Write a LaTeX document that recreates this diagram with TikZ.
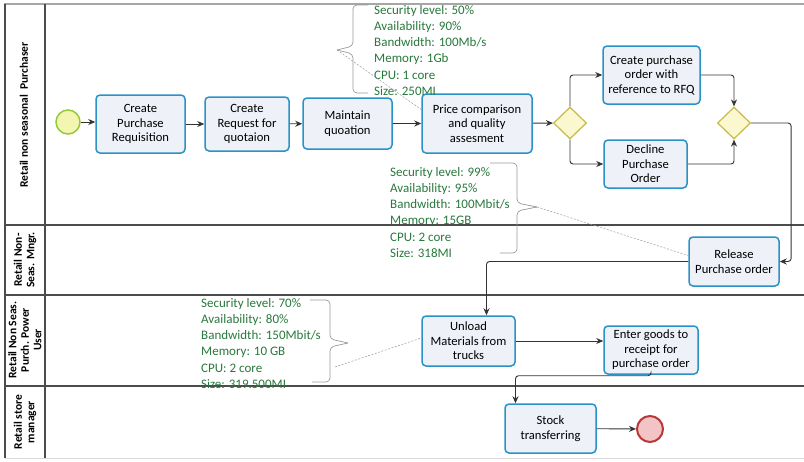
\documentclass[tikz,border=0pt]{standalone}
\usepackage{fontspec}
\setmainfont{Carlito}
\usepackage{tikz}
\usetikzlibrary{arrows.meta, positioning, shapes.geometric, calc}

\definecolor{taskblue}{RGB}{41,146,200}
\definecolor{taskfill}{RGB}{238,241,248}
\definecolor{startdraw}{RGB}{150,200,60}
\definecolor{startfill}{RGB}{243,246,176}
\definecolor{gatedraw}{RGB}{200,185,70}
\definecolor{gatefill}{RGB}{251,248,208}
\definecolor{enddraw}{RGB}{185,55,55}
\definecolor{endfill}{RGB}{242,196,198}
\definecolor{notegreen}{RGB}{40,120,60}

\begin{document}
\begin{tikzpicture}[
    x=1pt, y=-1pt,
    every node/.style={font=\fontsize{12.6}{14.5}\selectfont},
    task/.style={rectangle, rounded corners=4pt, draw=taskblue, line width=1.5pt, fill=taskfill, align=center, inner sep=1pt},
    gate/.style={diamond, draw=gatedraw, line width=1.2pt, fill=gatefill, minimum width=33pt, minimum height=32pt, inner sep=0pt},
    startev/.style={circle, draw=startdraw, line width=1.5pt, fill=startfill, minimum size=24pt, inner sep=0pt},
    endev/.style={circle, draw=enddraw, line width=2pt, fill=endfill, minimum size=26pt, inner sep=0pt},
    lanelabel/.style={rotate=90, align=center, font=\fontsize{11.5}{12.5}\selectfont\bfseries},
    note/.style={anchor=north west, align=left, inner sep=0pt, text=notegreen, font=\fontsize{13}{16.2}\selectfont},
    flow/.style={-{Stealth[length=7pt,width=6pt]}, line width=0.9pt, black!80, rounded corners=3pt},
    brace/.style={gray!80, line width=0.7pt, rounded corners=4pt},
    assoc/.style={gray!80, line width=0.5pt, dash pattern=on 2pt off 1.5pt},
    laneline/.style={black!70, line width=1.6pt}
]
\useasboundingbox (0,0) rectangle (804,461);

% --- pool and lanes ---
\draw[gray!70, line width=2pt] (4,4) -- (804,4);
\draw[laneline] (5,4) -- (5,458);
\draw[laneline] (45,4) -- (45,458);
\foreach \y in {225,295,386}
    \draw[laneline] (5,\y) -- (804,\y);
\draw[gray!30, line width=1pt] (5,458) -- (804,458);

\node[lanelabel] (l_purch) at (24,115) {Retail non seasonal\ \ Purchaser};
\node[lanelabel] (l_mngr)  at (25,260) {Retail Non-\\Seas. Mngr.};
\node[lanelabel] (l_power) at (25,340) {Retail Non Seas.\\Purch. Power\\User};
\node[lanelabel] (l_store) at (25,422) {Retail store\\manager};

% --- purchaser lane ---
\node[startev] (start) at (68,122) {};
\node[task, minimum width=89pt, minimum height=58pt] (cpr) at (140.5,124) {Create\\Purchase\\Requisition};
\node[task, minimum width=84pt, minimum height=54pt] (crq) at (247,124) {Create\\Request for\\quotaion};
\node[task, minimum width=89pt, minimum height=51pt] (mq)  at (347.5,123.5) {Maintain\\quoation};
\node[task, minimum width=110pt, minimum height=59pt] (pcq) at (477,123.5) {Price comparison\\and quality\\assesment};
\node[gate] (g1) at (570,123) {};
\node[task, minimum width=97pt, minimum height=58pt] (cpo) at (651.5,75) {Create purchase\\order with\\reference to RFQ};
\node[task, minimum width=83pt, minimum height=48pt] (dpo) at (645.5,164) {Decline\\Purchase\\Order};
\node[gate] (g2) at (734,123) {};

% --- other lanes ---
\node[task, minimum width=90pt, minimum height=49pt] (rpo) at (734,261.5) {Release\\Purchase order};
\node[task, minimum width=93pt, minimum height=50pt] (umt) at (468.5,341) {Unload\\Materials from\\trucks};
\node[task, minimum width=94pt, minimum height=48pt] (egr) at (651,350) {Enter goods to\\receipt for\\purchase order};
\node[task, minimum width=91pt, minimum height=49pt] (stk) at (550.5,428.5) {Stock\\transferring};
\node[endev] (stop) at (650,429) {};

% --- sequence flows ---
\draw[flow] (start) -- (start -| cpr.west);
\draw[flow] (cpr) -- (crq);
\draw[flow] (crq) -- (mq);
\draw[flow] (mq) -- (pcq);
\draw[flow] (pcq) -- (g1);
\draw[flow] (g1.north) |- (cpo.west);
\draw[flow] (g1.south) |- (dpo.west);
\draw[flow] (cpo.east) -| (g2.north);
\draw[flow] (dpo.east) -| (g2.south);
\draw[flow] (g2.east) -- ++(40,0) |- (rpo.east);
\draw[flow] (rpo.west) -| ([xshift=18pt]umt.north);
\draw[flow] (umt.east) -- (umt.east -| egr.west);
\draw[flow] (egr.south) -- ++(0,1) -| ([xshift=-35pt]stk.north);
\draw[flow] (stk) -- (stop);

% --- text annotations ---
\node[note] (ann1) at (374,5) {Security level: 50\%\\Availability: 90\%\\Bandwidth: 100Mb/s\\Memory: 1Gb\\CPU: 1 core\\Size: 250MI};
\coordinate (tip1) at (337,50);
\draw[brace] (tip1) -- ++(16,-4) -- ++(0,-41) -- ++(15,0);
\draw[brace] (tip1) -- ++(16,4) -- ++(0,39) -- ++(15,0);
\draw[assoc] (tip1) -- ([yshift=14pt]pcq.west);

\node[note] (ann2) at (390,167) {Security level: 99\%\\Availability: 95\%\\Bandwidth: 100Mbit/s\\Memory: 15GB\\CPU: 2 core\\Size: 318MI};
\coordinate (tip2) at (537,207);
\draw[brace] (tip2) -- ++(-20,-4) -- ++(0,-40) -- ++(-27,0);
\draw[brace] (tip2) -- ++(-20,4) -- ++(0,42) -- ++(-17,0);
\draw[assoc] (tip2) -- ([yshift=6pt]rpo.west);

\node[note] (ann3) at (201,298) {Security level: 70\%\\Availability: 80\%\\Bandwidth: 150Mbit/s\\Memory: 10 GB\\CPU: 2 core\\Size: 319.500MI};
\coordinate (tip3) at (348,343);
\coordinate (from3) at (335,367);
\draw[brace] (tip3) -- ++(-18,-4) -- ++(0,-39) -- ++(-20,0);
\draw[brace] (tip3) -- ++(-18,4) -- ++(0,35) -- ++(-18,0);
\draw[assoc] (from3) -- ([yshift=3pt]umt.west);
\end{tikzpicture}
\end{document}
